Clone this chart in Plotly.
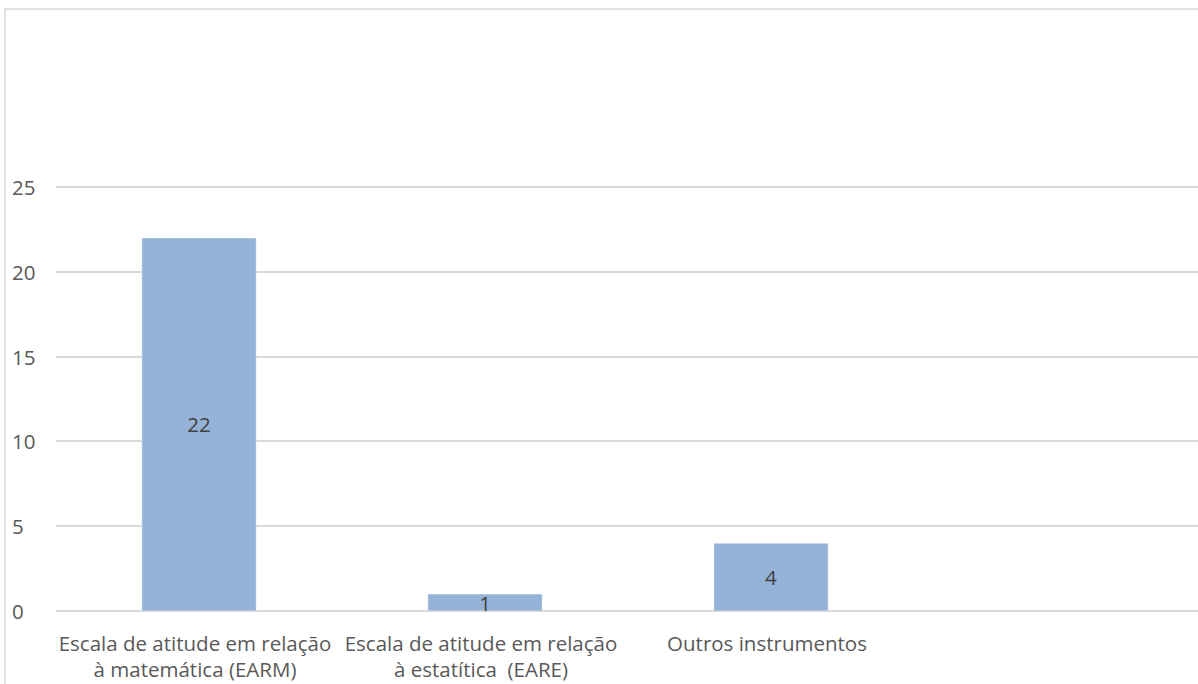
import plotly.graph_objects as go

# Instrument categories (the last slot is intentionally blank)
categories = [
    "Escala de atitude em relação<br>à matemática (EARM)",
    "Escala de atitude em relação<br>à estatítica  (EARE)",
    "Outros instrumentos",
    "",
]
counts = [22, 1, 4, None]
y_ticks = [0, 5, 10, 15, 20, 25]

FONT = "Open Sans"
TEXT_COLOR = "#595959"
GRID = "#D9D9D9"
BAR = "#95B3D7"
FS = 20.5

W, H = 1198, 684
ML, MT, MB = 56, 9, 73
plot_w = W - ML
plot_h = H - MT - MB
PX_PER_UNIT = 424 / 25.0

fig = go.Figure()
fig.add_trace(go.Bar(
    x=list(range(len(categories))),
    y=counts,
    width=0.4,
    marker=dict(color=BAR, line=dict(color="white", width=0.5)),
    text=[str(v) if v is not None else "" for v in counts],
    textposition="inside",
    insidetextanchor="middle",
    textangle=0,
    constraintext="none",
    textfont=dict(family=FONT, size=FS, color="#404040"),
    hoverinfo="skip",
))

# y tick labels, left-aligned against the chart frame
annotations = []
for v in y_ticks:
    annotations.append(dict(
        x=(10 - ML) / plot_w, xref="paper", y=v, yref="y",
        text=str(v), showarrow=False, xanchor="left", yanchor="middle",
        font=dict(family=FONT, size=FS, color=TEXT_COLOR),
    ))

# chart frame (top and left edges)
fx = (5 - ML) / plot_w
shapes = [
    dict(type="line", xref="paper", yref="paper", x0=fx, x1=fx,
         y0=-0.3, y1=1.0, line=dict(color=GRID, width=1.5)),
    dict(type="line", xref="paper", yref="paper", x0=fx, x1=1.05,
         y0=1.0, y1=1.0, line=dict(color=GRID, width=1.5)),
]

fig.update_layout(
    width=W, height=H,
    margin=dict(l=ML, r=0, t=MT, b=MB, pad=0),
    paper_bgcolor="white", plot_bgcolor="white",
    showlegend=False,
    annotations=annotations,
    shapes=shapes,
    xaxis=dict(
        range=[-0.5, -0.5 + plot_w / 286],
        tickvals=list(range(len(categories))),
        ticktext=categories,
        tickfont=dict(family=FONT, size=FS, color=TEXT_COLOR),
        showgrid=False, zeroline=False, showline=False, ticks="",
        ticklabelstandoff=18,
        ticklabelshift=-4,
        tickangle=0,
    ),
    yaxis=dict(
        range=[0, plot_h / PX_PER_UNIT],
        tickvals=y_ticks,
        showticklabels=False,
        showgrid=True, gridcolor=GRID, gridwidth=1.5,
        zeroline=True, zerolinecolor=GRID, zerolinewidth=1.5,
        showline=False, ticks="",
    ),
)

fig.write_html("out.html")
